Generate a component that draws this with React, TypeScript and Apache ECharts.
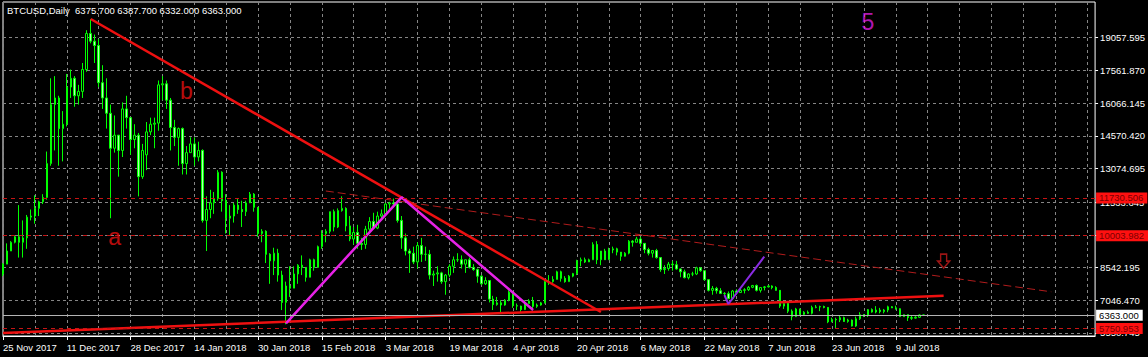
import React, { useEffect, useRef } from "react";
import * as echarts from "echarts";

// ---------- axis data ----------
const START_DATE = "2017-11-25";
const SKIPPED_DATES = ["2017-12-25", "2018-01-01"];
const CATEGORY_COUNT = 275;
const MONTH_NAMES = ["Jan", "Feb", "Mar", "Apr", "May", "Jun", "Jul", "Aug", "Sep", "Oct", "Nov", "Dec"];
const LABEL_EVERY = 16;

const gridPrices = [19057.595, 17561.87, 16066.145, 14570.42, 13074.695, 11533.645, 10037.92, 8542.195, 7046.47, 5550.745];
const levelPrices = [11730.506, 10003.982, 5750.953];
const currentPrice = 6363.0;
const titleText = "BTCUSD,Daily  6375.700 6387.700 6332.000 6363.000";

// ---------- daily bars [open, high, low, close] ----------
const nov2017 = [
  [8250, 8750, 8150, 8700], [8700, 9650, 8700, 9300], [9300, 9750, 9300, 9700], [9700, 10000, 9650, 9950],
  [9950, 11400, 9000, 9700], [9700, 10700, 9000, 9900],
];
const dec2017 = [
  [9900, 10950, 9400, 10850], [10850, 11200, 10700, 10900], [10900, 11850, 10550, 11250], [11250, 11600, 10900, 11550],
  [11550, 11900, 11450, 11750], [11750, 13850, 11650, 13300], [13300, 17200, 13200, 16000], [16000, 17300, 13900, 16300],
  [16300, 16400, 13200, 14900], [14900, 15700, 13400, 15100], [15100, 17400, 15000, 16800], [16800, 17600, 16300, 17200],
  [17200, 17300, 15900, 16400], [16400, 16900, 16000, 16600], [16600, 17900, 16300, 17600], [17600, 19400, 17500, 19250],
  [19250, 19900, 18800, 18900], [18900, 19200, 17900, 18700], [18700, 19000, 16800, 17000], [17000, 17800, 15800, 16300],
  [16300, 17200, 14900, 15600], [15600, 16000, 10800, 14000], [14000, 15500, 13800, 14600], [14600, 14600, 12700, 13900],
  [13900, 16100, 13600, 15800], [15800, 16400, 14900, 15400], [15400, 15400, 13700, 14400], [14400, 15100, 14000, 14600],
  [14600, 14700, 11800, 12700], [12700, 14200, 12600, 13900],
];
const jan2018 = [
  [13700, 15200, 13000, 14750], [14750, 15400, 14600, 15100], [15100, 15400, 14000, 15150], [15150, 17100, 14800, 16900],
  [16900, 17300, 16200, 16950], [16950, 17100, 15800, 16200], [16200, 16300, 13900, 14950], [14950, 15300, 14100, 14500],
  [14500, 14950, 13200, 14900], [14900, 14950, 12800, 13300], [13300, 14100, 12800, 13800], [13800, 14500, 13800, 14200],
  [14200, 14500, 13200, 13600], [13600, 14300, 13400, 13900], [13900, 13950, 10600, 10700], [10700, 11800, 9300, 11200],
  [11200, 12100, 10800, 11500], [11500, 12000, 11000, 11700], [11700, 13000, 11600, 12900], [12900, 12950, 11100, 11600],
  [11600, 11900, 10100, 10800], [10800, 11400, 10000, 10900], [10900, 11500, 10600, 11400], [11400, 11700, 11000, 11200],
  [11200, 11600, 10400, 11100], [11100, 11600, 10900, 11500], [11500, 12000, 11500, 11900], [11900, 11950, 11100, 11300],
  [11300, 11300, 9950, 10100], [10100, 10300, 9700, 10200],
];
const feb2018 = [
  [10200, 10250, 8750, 9150], [9150, 9200, 7800, 8850], [8850, 9450, 8200, 9200], [9200, 9400, 7900, 8200],
  [8200, 8400, 6600, 6950], [6950, 7900, 5950, 7700], [7700, 8600, 7200, 7600], [7600, 8600, 7600, 8250],
  [8250, 8700, 7800, 8650], [8650, 9100, 8200, 8550], [8550, 8550, 7900, 8100], [8100, 8950, 8100, 8900],
  [8900, 8950, 8400, 8550], [8550, 9550, 8550, 9500], [9500, 10250, 9400, 10100], [10100, 10300, 9700, 10200],
  [10200, 11100, 10100, 11100], [11100, 11200, 10200, 10400], [10400, 11250, 10350, 11150], [11150, 11800, 11100, 11250],
  [11250, 11300, 10200, 10450], [10450, 10900, 9750, 9850], [9850, 10400, 9600, 10150], [10150, 10500, 9400, 9650],
  [9650, 9900, 9350, 9600], [9600, 10450, 9400, 10300], [10300, 10850, 10200, 10650], [10650, 11050, 10300, 10350],
];
const mar2018 = [
  [10350, 11100, 10300, 10900], [10900, 11200, 10800, 11000], [11000, 11500, 11000, 11450], [11450, 11550, 11100, 11500],
  [11500, 11700, 11400, 11450], [11450, 11450, 10600, 10700], [10700, 10900, 9400, 9900], [9900, 10100, 9100, 9300],
  [9300, 9400, 8300, 9200], [9200, 9500, 8700, 8800], [8800, 9700, 8500, 9550], [9550, 9900, 8800, 9150],
  [9150, 9500, 8850, 9150], [9150, 9350, 8000, 8200], [8200, 8400, 7700, 8250], [8250, 8600, 7900, 8300],
  [8300, 8350, 7800, 7900], [7900, 8250, 7300, 8200], [8200, 8700, 8100, 8600], [8600, 9050, 8300, 8900],
  [8900, 9200, 8800, 8900], [8900, 9100, 8500, 8700], [8700, 8900, 8300, 8900], [8900, 9000, 8500, 8550],
  [8550, 8700, 8400, 8450], [8450, 8500, 7850, 8150], [8150, 8200, 7750, 7800], [7800, 8100, 7750, 7950],
  [7950, 7950, 6950, 7100], [7100, 7250, 6600, 6850], [6850, 7200, 6800, 6930],
];
const apr2018 = [
  [6930, 7050, 6450, 6830], [6830, 7100, 6800, 7050], [7050, 7500, 7000, 7420], [7420, 7430, 6700, 6800],
  [6800, 6900, 6600, 6780], [6780, 6800, 6500, 6620], [6620, 7050, 6600, 6900], [6900, 7100, 6900, 7020],
  [7020, 7200, 6600, 6770], [6770, 6900, 6700, 6830], [6830, 6970, 6800, 6930], [6930, 8000, 6900, 7900],
  [7900, 8200, 7750, 7900], [7900, 8150, 7850, 8000], [8000, 8400, 8000, 8350], [8350, 8400, 7900, 8050],
  [8050, 8150, 7850, 7900], [7900, 8200, 7900, 8150], [8150, 8300, 8100, 8270], [8270, 8900, 8200, 8850],
  [8850, 9000, 8600, 8900], [8900, 9000, 8750, 8800], [8800, 8950, 8800, 8900], [8900, 9700, 8900, 9600],
  [9600, 9750, 8700, 8900], [8900, 9300, 8650, 9300], [9300, 9400, 8900, 8900], [8900, 9450, 8900, 9350],
  [9350, 9500, 9200, 9400], [9400, 9450, 9100, 9250],
];
const may2018 = [
  [9250, 9250, 8850, 9060], [9060, 9250, 9050, 9200], [9200, 9800, 9150, 9750], [9750, 9800, 9500, 9700],
  [9700, 9950, 9700, 9850], [9850, 9950, 9500, 9650], [9650, 9650, 9200, 9370], [9370, 9450, 9100, 9200],
  [9200, 9350, 9000, 9320], [9320, 9400, 8950, 9000], [9000, 9000, 8350, 8450], [8450, 8650, 8250, 8500],
  [8500, 8800, 8400, 8700], [8700, 8850, 8400, 8670], [8670, 8850, 8450, 8480], [8480, 8500, 8100, 8350],
  [8350, 8450, 8050, 8080], [8080, 8280, 8000, 8250], [8250, 8350, 8150, 8250], [8250, 8580, 8200, 8530],
  [8530, 8550, 8350, 8400], [8400, 8400, 7950, 7990], [7990, 8000, 7450, 7500], [7500, 7700, 7300, 7590],
  [7590, 7660, 7350, 7480], [7480, 7600, 7330, 7360], [7360, 7420, 7250, 7350], [7350, 7450, 7100, 7120],
  [7120, 7520, 7050, 7470], [7470, 7550, 7300, 7400], [7400, 7600, 7400, 7500],
];
const jun2018 = [
  [7500, 7600, 7360, 7530], [7530, 7700, 7470, 7640], [7640, 7750, 7600, 7720], [7720, 7770, 7450, 7500],
  [7500, 7650, 7400, 7630], [7630, 7700, 7500, 7660], [7660, 7750, 7630, 7700], [7700, 7730, 7550, 7630],
  [7630, 7690, 7490, 7500], [7500, 7500, 6700, 6780], [6780, 6920, 6650, 6900], [6900, 6930, 6460, 6550],
  [6550, 6630, 6130, 6300], [6300, 6700, 6280, 6650], [6650, 6660, 6400, 6400], [6400, 6550, 6330, 6500],
  [6500, 6580, 6430, 6450], [6450, 6800, 6400, 6720], [6720, 6830, 6680, 6740], [6740, 6800, 6550, 6760],
  [6760, 6800, 6680, 6720], [6720, 6730, 6000, 6060], [6060, 6250, 6050, 6170], [6170, 6250, 5780, 6150],
  [6150, 6350, 6050, 6250], [6250, 6300, 6060, 6080], [6080, 6200, 6020, 6140], [6140, 6170, 5850, 5870],
  [5870, 6300, 5830, 6200], [6200, 6500, 6150, 6390],
];
const jul2018 = [
  [6390, 6420, 6280, 6350], [6350, 6650, 6280, 6620], [6620, 6680, 6480, 6510], [6510, 6780, 6450, 6600],
  [6600, 6700, 6450, 6530], [6530, 6650, 6450, 6600], [6600, 6800, 6500, 6750], [6750, 6780, 6690, 6700],
  [6700, 6800, 6620, 6660], [6660, 6680, 6280, 6300], [6300, 6400, 6290, 6390], [6390, 6400, 6100, 6250],
  [6250, 6350, 6150, 6230], [6230, 6320, 6200, 6270], [6270, 6400, 6240, 6375.7], [6375.7, 6387.7, 6332, 6363],
];

// ---------- drawn objects: [bar index, price] ----------
const downTrend = [[22, 19913], [150, 6510]];
const supportTrend = [[0, 5555], [236, 7256]];
const dashedTrend = [[81, 12045], [263, 7435]];
const magentaWave = [[71, 5994], [100, 11757], [133, 6603]];
const violetTick = [[181, 7289], [182, 6877], [191, 9041]];
const annotationTexts = ["a", "b", "5"];
const annotationPoints = [[28, 9955], [46, 16642], [217, 19789]];
const exitArrowPoint = [236, 8835];

// ---------- styles ----------
const FONT = "'Liberation Sans', Arial, sans-serif";
const GRID_COLOR = "#858585";
const CANDLE_LINE = "#00ff00";
const BULL_FILL = "#000000";
const BEAR_FILL = "#b4ffb4";
const LEVEL_COLOR = "#c81414";
const LEVEL_BOX = "#ff1010";
const ARROW_PATH = "path://M3,0 L9,0 L9,7 L12,7 L6,14 L0,7 L3,7 Z";
const annotationStyles = [
  { color: "#e81010", fontSize: 23, fontFamily: FONT },
  { color: "#e81010", fontSize: 23, fontFamily: FONT },
  { color: "#e01ee0", fontSize: 23, fontFamily: FONT },
];

function buildCategories(): string[] {
  const out: string[] = [];
  const d = new Date(START_DATE + "T00:00:00Z");
  while (out.length < CATEGORY_COUNT) {
    const iso = d.toISOString().slice(0, 10);
    if (!SKIPPED_DATES.includes(iso)) {
      out.push(`${d.getUTCDate()} ${MONTH_NAMES[d.getUTCMonth()]} ${d.getUTCFullYear()}`);
    }
    d.setUTCDate(d.getUTCDate() + 1);
  }
  return out;
}

export default function App() {
  const ref = useRef<HTMLDivElement>(null);
  useEffect(() => {
    document.body.style.margin = "0";
    document.body.style.background = "#000";
    const categories = buildCategories();
    const bars = [...nov2017, ...dec2017, ...jan2018, ...feb2018, ...mar2018, ...apr2018, ...may2018, ...jun2018, ...jul2018];
    const lastBar = bars.length - 1;
    const candleData = bars.map(([o, h, l, c]) => [o, c, l, h]);

    const chart = echarts.init(ref.current!, null, { renderer: "svg" });
    const option: any = {
      animation: false,
      backgroundColor: "#000",
      textStyle: { fontFamily: FONT },
      title: {
        text: titleText,
        left: 7,
        top: 5,
        padding: 0,
        textStyle: { color: "#fff", fontSize: 9.5, fontWeight: "normal", fontFamily: FONT },
      },
      grid: { left: 2, top: 2, right: 48, bottom: 21, show: true, borderColor: "#fff", borderWidth: 1, backgroundColor: "#000" },
      xAxis: {
        type: "category",
        data: categories,
        boundaryGap: false,
        axisLine: { show: true, lineStyle: { color: "#fff", width: 1 } },
        axisTick: {
          show: true,
          length: 4,
          interval: (i: number) => i % LABEL_EVERY === 0 && i <= lastBar,
          lineStyle: { color: "#fff" },
        },
        axisLabel: {
          color: "#fff",
          fontSize: 9.5,
          fontFamily: FONT,
          align: "left",
          margin: 6,
          interval: (i: number) => i % LABEL_EVERY === 0 && i <= lastBar,
        },
        splitLine: { show: true, interval: 7, lineStyle: { color: GRID_COLOR, type: [3, 3], width: 1 } },
      },
      yAxis: {
        type: "value",
        position: "right",
        min: 5413,
        max: 20690,
        axisLine: { show: false },
        axisTick: { show: true, length: 3, customValues: gridPrices, lineStyle: { color: "#fff" } },
        axisLabel: {
          show: true,
          customValues: gridPrices,
          color: "#fff",
          fontSize: 9.5,
          fontFamily: FONT,
          margin: 5,
          formatter: (v: number) => v.toFixed(3),
        },
        splitLine: { show: false },
      },
      series: [
        {
          type: "line",
          data: [],
          z: 1,
          silent: true,
          markLine: {
            silent: true,
            z: 1,
            symbol: ["none", "none"],
            label: { show: false },
            lineStyle: { color: GRID_COLOR, type: [3, 3], width: 1 },
            data: gridPrices.map((p) => ({ yAxis: p })),
          },
        },
        {
          type: "candlestick",
          data: candleData,
          barWidth: 2,
          z: 2,
          itemStyle: {
            color: BULL_FILL,
            color0: BEAR_FILL,
            borderColor: CANDLE_LINE,
            borderColor0: CANDLE_LINE,
            borderColorDoji: CANDLE_LINE,
            borderWidth: 1,
          },
        },
        {
          type: "line",
          data: [],
          z: 3,
          silent: true,
          markLine: {
            silent: true,
            z: 6,
            symbol: ["none", "none"],
            data: [
              {
                yAxis: currentPrice,
                lineStyle: { color: "#b4b4b4", type: "solid", width: 1 },
                label: {
                  show: true,
                  position: "end",
                  distance: 1,
                  formatter: () => currentPrice.toFixed(3),
                  color: "#000",
                  backgroundColor: "#fff",
                  padding: [1, 4, 0, 3],
                  fontSize: 9.5,
                  lineHeight: 10,
                  fontFamily: FONT,
                },
              },
              ...levelPrices.map((p) => ({
                yAxis: p,
                lineStyle: { color: LEVEL_COLOR, type: [4, 4], width: 1 },
                label: {
                  show: true,
                  position: "end",
                  distance: 1,
                  formatter: () => p.toFixed(3),
                  color: "#7a0000",
                  backgroundColor: LEVEL_BOX,
                  padding: [1, 4, 0, 3],
                  fontSize: 9.5,
                  lineHeight: 10,
                  fontFamily: FONT,
                },
              })),
            ],
          },
        },
        {
          type: "line",
          data: dashedTrend,
          symbol: "none",
          z: 4,
          silent: true,
          lineStyle: { color: "#b01c1c", width: 1, type: [8, 4] },
        },
        {
          type: "line",
          data: supportTrend,
          symbol: "none",
          z: 4,
          silent: true,
          lineStyle: { color: "#ee1010", width: 2.5 },
        },
        {
          type: "line",
          data: downTrend,
          symbol: "none",
          z: 4,
          silent: true,
          lineStyle: { color: "#ee1010", width: 2.5 },
        },
        {
          type: "line",
          data: magentaWave,
          symbol: "none",
          z: 5,
          silent: true,
          lineStyle: { color: "#e622e6", width: 2.5 },
        },
        {
          type: "line",
          data: violetTick,
          symbol: "none",
          z: 5,
          silent: true,
          lineStyle: { color: "#8a2be2", width: 2 },
        },
        {
          type: "scatter",
          z: 6,
          silent: true,
          symbolSize: 1,
          itemStyle: { color: "rgba(0,0,0,0)" },
          data: annotationPoints.map((pt, i) => ({
            value: pt,
            label: {
              show: true,
              position: "inside",
              formatter: annotationTexts[i],
              ...annotationStyles[i],
            },
          })),
        },
        {
          type: "scatter",
          z: 6,
          silent: true,
          symbol: ARROW_PATH,
          symbolSize: [12, 14],
          itemStyle: { color: "rgba(0,0,0,0)", borderColor: "#c41a1a", borderWidth: 1.5 },
          data: [exitArrowPoint],
        },
      ],
    };
    chart.setOption(option);
    return () => chart.dispose();
  }, []);
  return <div ref={ref} style={{ width: 1148, height: 357, background: "#000" }} />;
}
